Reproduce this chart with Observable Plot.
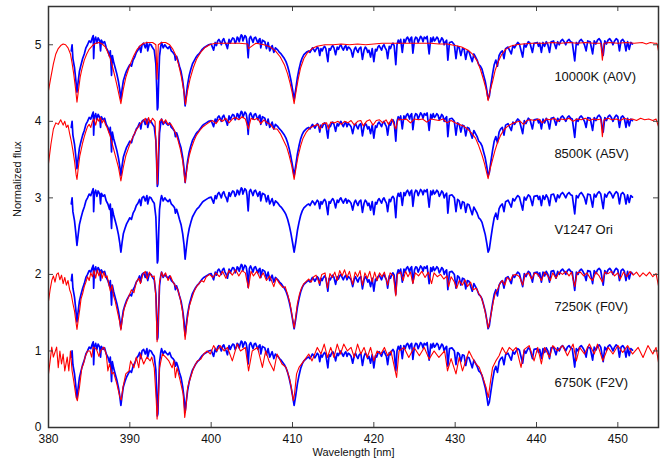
<!DOCTYPE html>
<html>
<head>
<meta charset="utf-8">
<script src="https://cdn.jsdelivr.net/npm/d3@7"></script>
<script src="https://cdn.jsdelivr.net/npm/@observablehq/plot@0.6"></script>
<style>
  html, body { margin: 0; padding: 0; background: #fff; }
</style>
</head>
<body>
<div id="chart"></div>
<script>
// ---- Data (wavelength in nm, normalized flux) ----
const xTicks = [380, 390, 400, 410, 420, 430, 440, 450];
const yTicks = [0, 1, 2, 3, 4, 5];

const seriesLabels = ["10000K (A0V)", "8500K (A5V)", "V1247 Ori", "7250K (F0V)", "6750K (F2V)"];
const labelOffsets = [4, 3, 2, 1, 0];
const observedOffsets = [0, 1, 2, 3, 4];
const modelOffsets = [4, 3, 1, 0];

// Observed spectrum of V1247 Ori (main features)
const observed = [
[382.8,0.92],[382.9,1.0],[383.0,0.82],[383.2,0.70],[383.35,0.55],[383.5,0.38],[383.65,0.52],[383.8,0.65],[384.0,0.74],[384.2,0.82],
[384.4,0.88],[384.6,0.96],[384.8,1.0],[385.0,1.05],[385.2,1.03],[385.35,1.08],[385.5,1.12],[385.55,0.82],[385.65,1.06],[385.8,1.10],
[385.95,1.02],[386.1,1.09],[386.3,1.05],[386.4,0.92],[386.5,1.06],[386.7,1.02],[386.9,1.04],[387.1,0.96],[387.3,0.92],[387.5,0.85],
[387.6,0.92],[387.75,0.60],[387.85,0.86],[388.0,0.78],[388.2,0.70],[388.4,0.62],[388.6,0.52],[388.75,0.42],[388.9,0.29],[389.05,0.42],
[389.2,0.53],[389.4,0.60],[389.6,0.66],[389.8,0.70],[390.0,0.74],[390.2,0.72],[390.4,0.80],[390.6,0.84],[390.8,0.90],[391.0,0.93],
[391.2,0.98],[391.35,0.90],[391.5,1.0],[391.7,1.02],[391.9,0.96],[392.1,1.03],[392.2,0.92],[392.4,1.01],[392.6,1.0],[392.8,0.96],
[393.0,0.93],[393.2,0.75],[393.3,0.45],[393.38,0.15],[393.45,0.18],[393.55,0.55],[393.65,0.85],[393.8,0.98],[393.9,1.03],[394.1,0.96],
[394.3,1.0],[394.5,0.97],[394.7,0.95],[394.9,0.98],[395.1,0.92],[395.3,0.90],[395.5,0.87],[395.6,0.80],[395.75,0.85],[395.9,0.80],
[396.1,0.72],[396.3,0.65],[396.5,0.53],[396.65,0.40],[396.8,0.20],[396.95,0.35],[397.1,0.48],[397.3,0.60],[397.5,0.68],[397.7,0.75],
[397.9,0.79],[398.1,0.83],[398.3,0.86],[398.5,0.88],[398.7,0.91],[398.9,0.94],[399.1,0.96],[399.4,0.98],[399.7,1.0],[400.0,1.01],
[400.3,0.93],[400.5,1.03],[400.8,1.05],[401.1,1.04],[401.4,1.06],[401.7,1.03],[402.0,0.95],[402.2,1.07],[402.5,1.06],[402.8,1.08],
[403.1,1.05],[403.3,1.09],[403.6,1.10],[403.8,1.12],[404.0,1.08],[404.3,1.10],[404.55,0.83],[404.7,1.08],[405.0,1.07],[405.3,1.09],
[405.6,1.06],[405.9,1.07],[406.1,0.96],[406.3,1.06],[406.6,1.04],[406.8,0.95],[407.0,1.03],[407.2,0.92],[407.5,0.99],[407.7,0.90],
[407.9,0.96],[408.2,0.93],[408.4,0.90],[408.6,0.88],[408.8,0.85],[409.0,0.82],[409.2,0.78],[409.4,0.72],[409.6,0.64],[409.8,0.54],
[410.0,0.42],[410.2,0.29],[410.4,0.42],[410.6,0.57],[410.8,0.68],[411.0,0.77],[411.2,0.83],[411.4,0.87],[411.6,0.89],[411.8,0.91],
[412.0,0.92],[412.3,0.93],[412.6,0.94],[412.9,0.94],[413.2,0.95],[413.35,0.86],[413.5,0.95],[413.8,0.96],[414.1,0.95],[414.35,0.78],
[414.5,0.95],[414.8,0.97],[415.1,0.96],[415.3,0.87],[415.5,0.97],[415.8,0.98],[416.1,0.96],[416.4,0.97],[416.7,0.93],[417.0,0.96],
[417.4,0.84],[417.6,0.94],[417.9,0.93],[418.2,0.95],[418.6,0.81],[418.8,0.93],[419.1,0.95],[419.4,0.93],[419.6,0.84],[419.8,0.95],
[420.0,0.78],[420.2,0.94],[420.5,0.97],[420.8,0.96],[421.1,0.98],[421.4,0.96],[421.7,0.82],[421.9,0.98],[422.2,1.0],[422.5,0.99],
[422.7,0.74],[422.85,1.0],[423.0,1.06],[423.3,1.07],[423.5,0.90],[423.7,1.07],[424.0,1.08],[424.3,1.06],[424.5,1.08],[424.8,0.89],
[425.0,1.06],[425.3,1.09],[425.6,1.07],[425.9,1.09],[426.2,1.10],[426.4,1.08],[426.8,0.88],[427.0,1.09],[427.3,1.10],[427.6,1.07],
[427.9,1.08],[428.2,1.05],[428.5,1.07],[428.8,1.04],[429.1,0.80],[429.3,1.03],[429.6,1.04],[429.9,1.0],[430.1,0.82],[430.3,0.98],
[430.5,0.96],[430.7,0.86],[430.9,0.95],[431.1,0.94],[431.3,0.81],[431.5,0.92],[431.7,0.91],[432.1,0.78],[432.3,0.88],[432.5,0.84],
[432.7,0.80],[432.9,0.74],[433.1,0.72],[433.3,0.68],[433.5,0.60],[433.7,0.52],[433.9,0.40],[434.05,0.29],[434.2,0.33],[434.4,0.48],
[434.6,0.62],[434.8,0.74],[435.0,0.80],[435.2,0.72],[435.4,0.86],[435.6,0.90],[435.8,0.92],[436.0,0.82],[436.2,0.95],[436.5,0.97],
[436.9,0.88],[437.1,0.99],[437.5,1.0],[437.9,1.01],[438.3,0.84],[438.5,1.01],[438.9,1.02],[439.2,1.02],[439.5,0.90],[439.7,1.02],
[440.1,1.03],[440.4,1.02],[440.6,0.90],[440.8,1.03],[441.2,1.04],[441.6,0.90],[441.8,1.04],[442.1,1.05],[442.4,0.95],[442.6,1.04],
[443.0,1.05],[443.4,1.04],[443.8,1.05],[444.2,1.04],[444.4,1.03],[444.7,0.79],[444.9,1.03],[445.3,1.05],[445.7,1.04],[446.1,0.92],
[446.3,1.05],[446.6,1.04],[446.9,0.88],[447.1,1.05],[447.5,1.06],[447.9,1.05],[448.2,0.86],[448.4,1.05],[448.8,1.06],[449.2,1.05],
[449.6,1.05],[450.0,1.06],[450.2,0.92],[450.4,1.05],[450.8,1.04],[451.0,0.92],[451.2,1.04],[451.4,0.94],[451.6,1.03],[451.8,1.01]
];

// Observed spectrum: fine structure (weak lines / noise) read from the continuum regions
const observedFine = [
[400.65,0.99],[400.95,1.07],[401.25,1.0],[401.55,1.08],[401.85,1.0],[402.35,1.02],[402.65,1.09],[402.95,1.02],[403.2,1.10],[403.45,1.04],
[403.7,1.13],[403.9,1.05],[404.15,1.12],[404.4,1.04],[404.85,1.11],[405.15,1.03],[405.45,1.10],[405.75,1.02],[406.0,1.08],
[412.15,0.90],[412.45,0.96],[412.75,0.91],[413.05,0.97],[413.65,0.92],[413.95,0.98],[414.65,0.93],[414.95,0.99],[415.65,0.94],[415.95,1.0],
[416.25,0.93],[416.55,0.99],[416.85,0.97],[417.2,0.93],[417.75,0.97],[418.05,0.90],[418.4,0.97],[418.95,0.97],[419.25,0.90],[420.35,0.92],
[420.65,0.99],[420.95,0.93],[421.25,1.0],[421.55,0.93],[422.05,0.95],[422.35,1.02],
[423.15,1.02],[423.85,1.03],[424.15,1.10],[424.4,1.03],[424.65,1.10],[425.15,1.10],[425.45,1.03],[425.75,1.11],[426.05,1.04],[426.55,1.11],
[427.15,1.04],[427.45,1.05],[427.75,1.10],[428.05,1.02],[428.35,1.09],[428.65,1.0],[428.95,1.06],
[437.3,0.96],[437.7,1.03],[438.7,0.97],[439.0,1.04],
[440.25,0.98],[441.0,0.98],[441.4,1.0],[442.25,1.0],[442.8,1.0],[443.2,1.07],[443.6,1.0],[444.0,1.07],[445.1,1.0],[445.5,1.07],
[445.9,1.0],[447.3,1.01],[447.7,1.08],[448.6,1.01],[449.0,1.08],[449.4,1.0],[449.8,1.08],[450.6,1.07]
];

// Model 10000K (A0V)
const modelA0V = [
[380.0,0.40],[380.3,0.58],[380.6,0.75],[380.9,0.88],[381.2,0.95],[381.5,0.99],[381.8,1.01],[382.1,1.0],[382.4,0.96],[382.7,0.88],
[382.9,0.76],[383.1,0.62],[383.3,0.45],[383.5,0.25],[383.7,0.42],[383.9,0.58],[384.1,0.68],[384.4,0.80],[384.7,0.88],[385.0,0.94],
[385.4,0.99],[385.8,1.02],[386.2,1.03],[386.6,1.01],[387.0,0.97],[387.3,0.90],[387.6,0.82],[387.9,0.70],[388.2,0.57],[388.5,0.43],
[388.9,0.23],[389.2,0.42],[389.5,0.57],[389.8,0.67],[390.1,0.76],[390.5,0.86],[390.9,0.94],[391.3,0.99],[391.7,1.02],[392.2,1.03],
[392.8,1.03],[393.2,1.0],[393.35,0.55],[393.5,1.0],[393.9,1.03],[394.4,1.03],[394.9,1.0],[395.3,0.94],[395.7,0.85],[396.0,0.74],
[396.3,0.60],[396.6,0.42],[396.85,0.22],[397.1,0.40],[397.4,0.55],[397.8,0.70],[398.2,0.81],[398.7,0.90],[399.2,0.96],[399.8,1.0],
[400.5,1.02],[401.5,1.02],[402.5,1.02],[403.5,1.02],[404.5,1.01],[404.58,0.95],[405.5,1.02],[406.5,1.0],[407.3,0.97],[407.9,0.92],
[408.5,0.84],[409.0,0.74],[409.4,0.62],[409.7,0.50],[409.95,0.38],[410.2,0.23],[410.45,0.40],[410.7,0.55],[411.0,0.70],[411.4,0.82],
[411.8,0.89],[412.4,0.95],[413.0,0.98],[414.0,1.0],[415.0,1.0],[416.0,1.01],[417.0,1.0],[418.0,1.01],[419.0,1.0],[420.0,1.01],
[421.0,1.02],[422.0,1.02],[423.0,1.02],[424.0,1.02],[425.0,1.02],[426.0,1.02],[427.0,1.02],[428.0,1.01],[429.0,1.01],[430.0,0.99],
[430.8,0.97],[431.6,0.93],[432.2,0.87],[432.7,0.79],[433.1,0.68],[433.5,0.54],[433.8,0.42],[434.05,0.27],[434.3,0.40],[434.6,0.52],
[434.9,0.66],[435.3,0.78],[435.7,0.87],[436.2,0.94],[436.8,0.98],[437.5,1.0],[438.3,1.01],[439.5,1.02],[441.0,1.02],[442.0,1.03],
[443.0,1.02],[444.0,1.03],[445.0,1.02],[446.0,1.03],[447.0,1.02],[447.9,1.02],[448.1,0.80],[448.3,1.02],[449.0,1.03],[450.0,1.02],
[451.0,1.03],[452.0,1.02],[453.0,1.03],[453.5,1.01],[454.0,1.03],[454.5,1.02],[454.8,1.02],[455.0,0.92]
];

// Model 8500K (A5V)
const modelA5V = [
[380.0,0.45],[380.3,0.70],[380.6,0.90],[380.9,0.98],[381.2,0.96],[381.5,1.02],[381.8,0.95],[382.0,1.0],[382.2,0.92],[382.4,0.95],
[382.6,0.84],[382.8,0.74],[383.0,0.62],[383.2,0.48],[383.4,0.30],[383.5,0.24],[383.65,0.38],[383.85,0.55],[384.0,0.62],[384.2,0.72],
[384.4,0.80],[384.6,0.87],[384.8,0.93],[385.0,0.96],[385.2,0.92],[385.4,1.0],[385.6,1.03],[385.8,0.95],[386.0,1.04],[386.2,1.0],
[386.4,1.05],[386.6,0.98],[386.8,1.02],[387.0,0.96],[387.2,0.92],[387.4,0.86],[387.6,0.80],[387.8,0.72],[388.0,0.64],[388.3,0.52],
[388.6,0.40],[388.9,0.22],[389.2,0.40],[389.5,0.55],[389.8,0.64],[390.1,0.73],[390.4,0.80],[390.7,0.87],[391.0,0.92],[391.3,0.97],
[391.6,1.0],[391.9,1.04],[392.1,0.96],[392.3,1.05],[392.5,0.98],[392.8,1.04],[393.1,1.0],[393.25,0.60],[393.38,0.18],[393.5,0.60],
[393.65,1.0],[393.9,1.03],[394.2,0.97],[394.4,1.02],[394.7,0.96],[395.0,0.97],[395.3,0.92],[395.6,0.85],[395.9,0.76],[396.2,0.64],
[396.5,0.48],[396.8,0.20],[397.05,0.40],[397.3,0.55],[397.6,0.66],[397.9,0.75],[398.2,0.82],[398.6,0.88],[399.0,0.93],[399.4,0.96],
[399.8,0.99],[400.2,1.01],[400.6,0.97],[401.0,1.03],[401.4,1.0],[401.8,1.04],[402.2,0.98],[402.6,1.03],[403.0,1.05],[403.4,1.02],
[403.8,1.06],[404.2,1.03],[404.58,0.90],[404.9,1.04],[405.3,1.02],[405.7,1.04],[406.1,0.97],[406.5,1.02],[406.9,0.98],[407.3,0.96],
[407.7,0.90],[408.1,0.90],[408.5,0.84],[408.9,0.75],[409.3,0.66],[409.6,0.55],[409.9,0.42],[410.2,0.24],[410.45,0.40],[410.7,0.55],
[411.0,0.68],[411.3,0.78],[411.7,0.86],[412.1,0.91],[412.6,0.94],[413.1,0.96],[413.4,0.90],[413.7,0.97],[414.2,0.98],[414.4,0.90],
[414.7,0.99],[415.2,0.98],[415.6,1.0],[416.0,0.96],[416.4,1.0],[416.8,0.98],[417.2,1.01],[417.6,0.95],[418.0,1.0],[418.4,1.01],
[418.7,0.94],[419.1,1.0],[419.5,1.02],[419.9,0.95],[420.3,1.01],[420.7,1.02],[421.1,0.98],[421.5,1.02],[421.8,0.96],[422.2,1.03],
[422.7,0.90],[423.0,1.03],[423.5,1.02],[424.0,1.03],[424.5,0.98],[425.0,1.03],[425.5,1.02],[426.0,1.03],[426.5,0.99],[427.0,1.03],
[427.5,1.02],[428.0,1.01],[428.5,1.03],[429.0,0.98],[429.5,1.01],[430.0,0.98],[430.5,0.96],[431.0,0.94],[431.5,0.90],[432.0,0.85],
[432.5,0.78],[432.9,0.68],[433.3,0.56],[433.6,0.45],[433.85,0.34],[434.05,0.25],[434.3,0.38],[434.6,0.50],[434.9,0.62],[435.2,0.72],
[435.6,0.82],[436.0,0.89],[436.5,0.94],[437.0,0.97],[437.5,0.99],[438.0,1.0],[438.4,0.96],[438.8,1.01],[439.3,1.02],[439.8,1.01],
[440.3,1.03],[440.7,0.98],[441.2,1.03],[441.7,1.02],[442.2,1.04],[442.6,1.0],[443.0,1.03],[443.5,1.02],[444.0,1.04],[444.5,1.0],
[445.0,1.03],[445.5,1.02],[446.0,1.04],[446.5,1.01],[447.0,1.03],[447.5,1.02],[447.9,1.03],[448.1,0.80],[448.3,1.02],[448.8,1.04],
[449.3,1.02],[449.8,1.03],[450.3,1.01],[450.8,1.04],[451.3,1.02],[451.8,1.03],[452.3,1.01],[452.8,1.04],[453.3,1.02],[453.8,1.03],
[454.3,1.01],[454.7,1.03],[455.0,0.93]
];

// Model 7250K (F0V)
const modelF0V = [
[380.0,0.65],[380.2,0.80],[380.4,0.92],[380.6,0.98],[380.8,0.90],[381.0,1.0],[381.2,1.02],[381.4,0.93],[381.6,0.99],[381.8,0.88],
[382.0,0.96],[382.2,0.86],[382.4,0.92],[382.6,0.80],[382.8,0.74],[383.0,0.62],[383.2,0.52],[383.4,0.36],[383.5,0.28],[383.65,0.40],
[383.85,0.55],[384.0,0.68],[384.2,0.75],[384.4,0.84],[384.6,0.90],[384.8,0.97],[385.0,0.92],[385.2,1.02],[385.4,0.97],[385.6,1.05],
[385.8,0.95],[386.0,1.06],[386.2,0.98],[386.4,1.04],[386.6,0.95],[386.8,1.03],[387.0,0.96],[387.2,0.98],[387.4,0.88],[387.6,0.78],
[387.8,0.86],[388.0,0.72],[388.2,0.65],[388.5,0.50],[388.75,0.38],[388.9,0.27],[389.05,0.40],[389.3,0.55],[389.6,0.64],[389.9,0.72],
[390.2,0.80],[390.5,0.76],[390.8,0.90],[391.1,0.95],[391.3,0.88],[391.6,1.0],[391.9,1.04],[392.1,0.94],[392.4,1.03],[392.7,0.97],
[393.0,0.98],[393.2,0.70],[393.35,0.12],[393.5,0.40],[393.65,0.90],[393.9,1.03],[394.1,0.97],[394.4,1.02],[394.7,0.92],[395.0,0.98],
[395.3,0.90],[395.6,0.85],[395.9,0.80],[396.2,0.68],[396.5,0.50],[396.8,0.15],[397.05,0.40],[397.3,0.58],[397.6,0.68],[397.9,0.78],
[398.2,0.84],[398.5,0.88],[398.8,0.92],[399.1,0.90],[399.4,0.97],[399.8,1.0],[400.2,0.96],[400.6,1.02],[401.0,0.97],[401.4,1.04],
[401.8,0.95],[402.2,1.05],[402.6,0.99],[403.0,1.06],[403.4,0.98],[403.8,1.05],[404.2,1.02],[404.58,0.82],[404.9,1.04],[405.2,0.98],
[405.6,1.04],[406.0,0.95],[406.4,1.02],[406.8,0.92],[407.2,0.98],[407.7,0.84],[408.0,0.95],[408.4,0.88],[408.8,0.83],[409.1,0.84],
[409.4,0.74],[409.7,0.62],[409.95,0.46],[410.2,0.30],[410.4,0.45],[410.6,0.62],[410.85,0.74],[411.1,0.82],[411.4,0.88],[411.7,0.91],
[412.0,0.94],[412.3,0.90],[412.6,0.97],[412.9,0.99],[413.3,0.88],[413.6,1.0],[414.0,1.02],[414.3,0.82],[414.6,1.01],[414.9,0.96],
[415.2,1.03],[415.5,0.92],[415.8,1.05],[416.1,0.98],[416.4,1.06],[416.7,0.96],[417.0,1.04],[417.4,0.87],[417.7,1.03],[418.0,0.97],
[418.3,1.05],[418.6,0.86],[418.9,1.02],[419.2,0.95],[419.5,1.04],[419.8,0.90],[420.1,1.03],[420.4,0.92],[420.7,1.02],[421.0,0.97],
[421.3,1.03],[421.7,0.86],[422.0,1.02],[422.4,0.98],[422.7,0.72],[422.9,1.0],[423.3,1.03],[423.6,0.92],[423.9,1.04],[424.2,0.97],
[424.5,1.03],[424.8,0.88],[425.1,1.02],[425.5,0.98],[425.9,1.04],[426.3,0.96],[426.7,1.03],[427.1,0.88],[427.4,1.02],[427.8,0.97],
[428.2,1.0],[428.6,0.94],[429.0,0.98],[429.2,0.84],[429.5,0.97],[429.9,0.90],[430.2,0.82],[430.5,0.92],[430.9,0.86],[431.2,0.93],
[431.5,0.84],[431.9,0.90],[432.2,0.80],[432.6,0.82],[432.9,0.75],[433.2,0.70],[433.5,0.60],[433.75,0.48],[433.95,0.36],[434.05,0.30],
[434.2,0.36],[434.45,0.50],[434.7,0.65],[434.95,0.76],[435.2,0.80],[435.5,0.88],[435.8,0.92],[436.1,0.86],[436.4,0.96],[436.8,0.92],
[437.1,0.99],[437.5,1.0],[437.9,0.97],[438.3,0.86],[438.6,1.0],[439.0,1.02],[439.4,0.94],[439.8,1.02],[440.2,1.0],[440.6,0.92],
[441.0,1.03],[441.4,0.98],[441.7,0.92],[442.0,1.02],[442.4,0.95],[442.8,1.03],[443.2,1.0],[443.6,1.04],[444.0,0.98],[444.3,1.03],
[444.7,0.84],[445.0,1.02],[445.4,1.03],[445.8,0.98],[446.2,1.02],[446.6,0.95],[446.9,0.92],[447.3,1.03],[447.7,0.98],[448.1,0.90],
[448.4,1.03],[448.8,1.01],[449.2,1.04],[449.6,0.98],[450.0,1.02],[450.3,0.94],[450.7,1.03],[451.1,0.97],[451.5,1.04],[451.9,0.99],
[452.3,1.03],[452.7,0.97],[453.1,1.02],[453.5,0.98],[453.9,1.03],[454.3,0.97],[454.7,1.01],[455.0,0.85]
];

// Model 6750K (F2V)
const modelF2V = [
[380.0,0.70],[380.2,0.87],[380.4,1.05],[380.6,0.92],[381.0,1.05],[381.2,0.78],[381.4,1.0],[381.6,0.83],[381.8,0.96],[382.0,0.74],
[382.3,0.92],[382.5,0.74],[382.7,1.0],[382.9,0.74],[383.1,0.61],[383.4,0.39],[383.55,0.35],[383.8,0.52],[384.1,0.78],[384.3,0.83],
[384.5,0.92],[384.8,1.0],[385.1,1.0],[385.3,0.92],[385.5,1.05],[385.9,1.02],[386.2,0.93],[386.4,1.0],[386.8,1.05],[387.1,0.96],
[387.3,0.74],[387.5,0.83],[387.8,0.70],[388.0,0.72],[388.4,0.57],[388.6,0.48],[388.8,0.39],[388.95,0.36],[389.15,0.52],[389.5,0.70],
[389.9,0.74],[390.1,0.87],[390.5,0.78],[390.8,0.92],[391.1,0.78],[391.3,0.96],[391.7,0.83],[392.1,0.92],[392.5,0.87],[392.7,0.92],
[393.0,0.78],[393.25,0.35],[393.35,0.11],[393.5,0.35],[393.65,0.78],[394.0,0.96],[394.4,0.92],[394.8,0.87],[395.2,0.78],[395.4,0.87],
[395.6,0.65],[395.8,0.78],[396.2,0.61],[396.55,0.44],[396.75,0.13],[396.9,0.26],[397.1,0.52],[397.45,0.65],[397.85,0.78],[398.3,0.87],
[398.7,0.89],[399.1,0.96],[399.5,1.0],[399.9,0.96],[400.3,1.07],[400.7,1.0],[401.1,1.07],[401.6,1.0],[402.0,1.046],[402.6,0.87],
[403.2,1.09],[403.6,1.0],[404.2,1.046],[404.6,0.74],[405.05,1.0],[405.7,1.046],[406.3,0.785],[406.7,1.0],[407.1,0.87],[407.7,0.74],
[408.1,0.96],[408.7,0.83],[409.2,0.785],[409.6,0.654],[409.85,0.523],[410.1,0.35],[410.25,0.436],[410.5,0.70],[410.8,0.785],[411.4,0.87],
[412.0,0.96],[412.4,0.87],[413.05,1.046],[413.5,0.96],[413.9,1.09],[414.3,0.915],[414.7,1.046],[415.1,0.915],[415.5,1.09],[415.9,0.96],
[416.3,1.09],[416.75,1.0],[417.2,1.046],[417.6,0.915],[418.0,1.09],[418.4,0.96],[418.8,1.046],[419.2,0.915],[419.6,1.046],[420.0,0.87],
[420.4,1.0],[420.85,0.96],[421.3,1.046],[421.7,0.937],[422.1,1.0],[422.8,0.654],[423.1,1.0],[423.7,1.046],[424.3,0.915],[424.95,1.046],
[425.6,0.937],[426.2,1.046],[426.8,0.893],[427.4,1.0],[428.0,0.915],[428.7,1.0],[429.06,0.74],[429.5,0.90],[430.1,0.70],[430.5,0.915],
[430.9,0.74],[431.3,0.87],[431.7,1.0],[432.1,0.915],[432.55,0.83],[432.96,0.785],[433.4,0.654],[433.8,0.523],[434.07,0.392],[434.3,0.567],
[434.6,0.785],[435.0,0.87],[435.4,0.937],[435.8,1.046],[436.25,0.96],[436.65,1.046],[437.1,1.0],[437.5,1.046],[438.1,0.785],[438.5,1.02],
[439.1,1.07],[439.7,0.87],[440.15,1.046],[440.6,0.83],[441.0,1.046],[441.6,0.915],[442.0,1.07],[442.6,1.0],[443.2,1.07],[443.8,0.937],
[444.5,1.09],[444.9,0.87],[445.3,1.046],[445.9,0.96],[446.5,1.09],[447.1,0.96],[447.5,1.09],[448.15,0.87],[448.8,1.046],[449.4,0.96],
[450.0,1.07],[450.6,0.98],[451.2,1.07],[451.8,0.96],[452.5,1.046],[453.1,0.915],[453.7,1.07],[454.3,0.96],[454.7,1.046],[455.0,0.85]
];

const models = [modelA0V, modelA5V, modelF0V, modelF2V];

// ---- Build tables ----
const observedAll = d3.sort(observed.concat(observedFine), d => d[0]);
const obsRows = observedOffsets.flatMap(off =>
  observedAll.map(([w, f]) => ({x: w, y: f + off, z: "obs" + off})));
const modelRows = models.flatMap((m, i) =>
  m.map(([w, f]) => ({x: w, y: f + modelOffsets[i], z: "model" + i})));
const labelRows = seriesLabels.map((t, i) => ({text: t, y: labelOffsets[i] + 0.58}));

const W = 667, H = 461, mL = 48, mR = 9, mT = 6, mB = 34, tick = 5;
const frameW = W - mL - mR, frameH = H - mT - mB;

const chart = Plot.plot({
  width: W,
  height: H,
  marginLeft: mL,
  marginRight: mR,
  marginTop: mT,
  marginBottom: mB,
  style: {fontFamily: "'Liberation Sans', Arial, Helvetica, sans-serif", fontSize: "12px", background: "#fff", color: "#111"},
  x: {domain: [380, 455]},
  y: {domain: [0, 5.5]},
  marks: [
    Plot.line(obsRows, {x: "x", y: "y", z: "z", stroke: "#0000ff", strokeWidth: 1.7, strokeLinejoin: "round"}),
    Plot.line(modelRows, {x: "x", y: "y", z: "z", stroke: "#ff0000", strokeWidth: 1.1, strokeLinejoin: "round"}),
    Plot.text(labelRows, {x: () => 442.2, y: "y", text: "text", textAnchor: "start", fontSize: 13, fill: "#111"}),
    Plot.axisX({ticks: xTicks, tickSize: 0, tickPadding: 7, fontSize: 12, label: null, fill: "#111", tickFormat: d => String(d)}),
    Plot.axisY({ticks: yTicks, tickSize: 0, tickPadding: 7, fontSize: 12, label: null, fill: "#111", tickFormat: d => String(d)}),
    // inward ticks on all four sides
    Plot.tickX(xTicks, {x: d => d, insetTop: frameH - tick, stroke: "#444"}),
    Plot.tickX(xTicks, {x: d => d, insetBottom: frameH - tick, stroke: "#444"}),
    Plot.tickY(yTicks, {y: d => d, insetRight: frameW - tick, stroke: "#444"}),
    Plot.tickY(yTicks, {y: d => d, insetLeft: frameW - tick, stroke: "#444"}),
    Plot.frame({stroke: "#333", strokeWidth: 1.5}),
    Plot.text(["Wavelength [nm]"], {frameAnchor: "bottom", dy: 28, fontSize: 11, fill: "#111"}),
    Plot.text(["Normalized flux"], {frameAnchor: "left", rotate: -90, dx: -31, fontSize: 11, fill: "#111"})
  ]
});

document.getElementById("chart").appendChild(chart);
</script>
</body>
</html>
